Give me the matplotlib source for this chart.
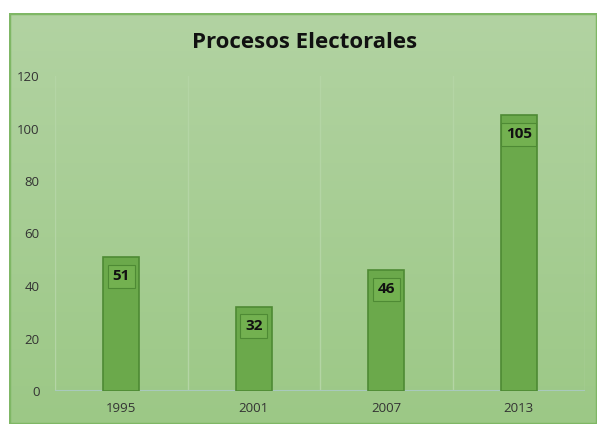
import matplotlib
matplotlib.use("Agg")
import matplotlib.pyplot as plt
import numpy as np
from matplotlib.colors import LinearSegmentedColormap
from matplotlib.patches import Rectangle

years = ["1995", "2001", "2007", "2013"]
values = [51, 32, 46, 105]
yticks = [0, 20, 40, 60, 80, 100, 120]
title = "Procesos Electorales"

plt.rcParams['font.family'] = ['Open Sans', 'DejaVu Sans']

W, H = 597, 424
fig = plt.figure(figsize=(W/100, H/100), dpi=100)
fig.patch.set_facecolor('white')

# background panel with gradient
x0 = 9/W
bg = fig.add_axes([x0, 0, 1 - x0, 1 - 13/H], zorder=0)
cmap = LinearSegmentedColormap.from_list('g', ['#9cc886', '#b2d3a2'])
grad = np.linspace(0, 1, 256).reshape(-1, 1)
bg.imshow(grad, aspect='auto', cmap=cmap, origin='lower', extent=[0, 1, 0, 1])
bg.set_xlim(0, 1); bg.set_ylim(0, 1)
bg.add_patch(Rectangle((0, 0), 1, 1, transform=bg.transAxes, fill=False,
                       edgecolor='#7fb765', lw=2.5))
bg.axis('off')

ax = fig.add_axes([55/W, 1 - 391/H, 530/W, (391 - 76)/H], zorder=1)
ax.patch.set_alpha(0)
x = np.arange(len(years))
ax.bar(x, values, width=0.27, color='#6ba94b', edgecolor='#4e8a34', lw=1.2, zorder=3)
ax.set_xlim(-0.5, len(years) - 0.5)
ax.set_ylim(0, 120)
ax.set_yticks(yticks)
ax.set_xticks(x)
ax.set_xticklabels(years)
for s in ax.spines.values():
    s.set_visible(False)
ax.axhline(0, color='#a9c9bd', lw=1.5, zorder=2)
for xs in np.arange(-0.5, len(years), 1.0):
    ax.axvline(xs, color='#b4d5a5', lw=1.0, zorder=1)
ax.tick_params(axis='both', length=0, colors='#333333', labelsize=9.5)
ax.tick_params(axis='y', pad=11)
ax.tick_params(axis='x', pad=8)

for xi, v in zip(x, values):
    ax.annotate(str(v), (xi, v), xytext=(0, -19), textcoords='offset pixels',
                ha='center', va='center', fontsize=11, fontweight='bold', color='#111111', zorder=5,
                bbox=dict(boxstyle='square,pad=0.3', facecolor='#73b150', edgecolor='#4e8a34', lw=0.8))

fig.text(305/W, 1 - 43/H, title, ha='center', va='center', fontsize=16, fontweight='bold', color='#111111')

fig.savefig('out.png', dpi=100, facecolor=fig.get_facecolor())
